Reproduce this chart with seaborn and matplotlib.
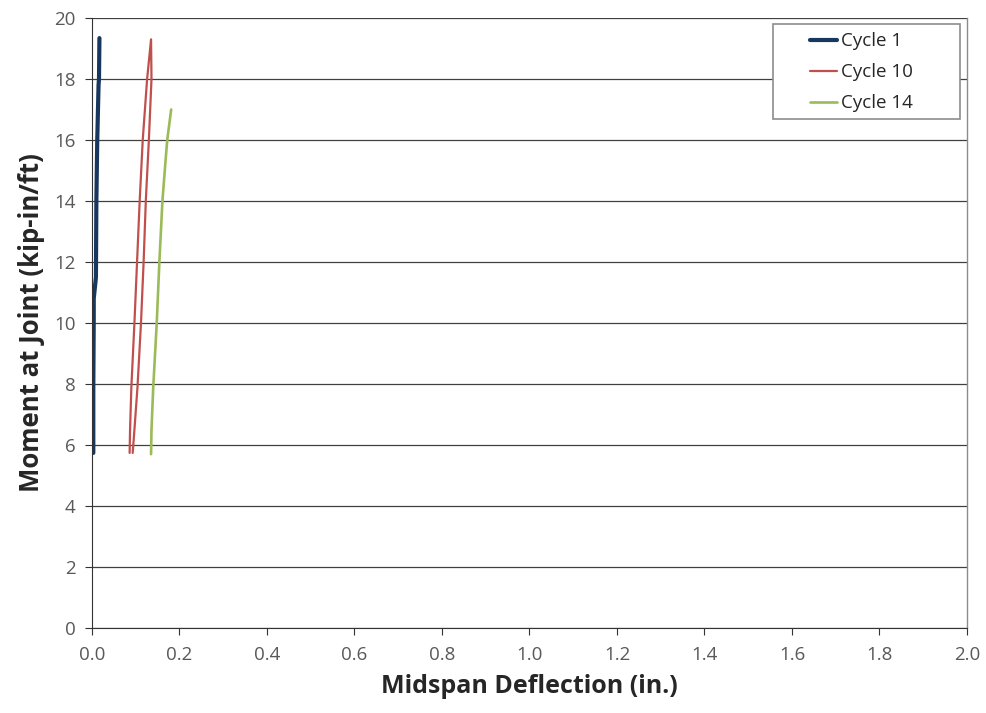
import matplotlib
matplotlib.use("Agg")
import matplotlib.pyplot as plt
from matplotlib.patches import Rectangle
import pandas as pd
import seaborn as sns

sns.set_style("white")
plt.rcParams['font.family'] = ['Open Sans', 'DejaVu Sans']

# values
cycle1_x = [0.003, 0.003, 0.003, 0.004, 0.004, 0.009, 0.010, 0.012, 0.015, 0.016, 0.017]
cycle1_y = [5.74, 6.5, 7.9, 10.2, 10.8, 11.5, 14.0, 16.0, 17.8, 18.0, 19.34]

cycle10_x = [0.093, 0.097, 0.104, 0.112, 0.118, 0.123, 0.130, 0.136, 0.135,
             0.126, 0.116, 0.109, 0.103, 0.097, 0.090, 0.087, 0.086]
cycle10_y = [5.74, 6.5, 7.9, 10.0, 12.0, 14.0, 16.0, 18.0, 19.3,
             18.0, 16.0, 14.0, 12.0, 10.0, 7.9, 6.5, 5.74]

cycle14_x = [0.135, 0.136, 0.140, 0.148, 0.154, 0.161, 0.168, 0.172, 0.181]
cycle14_y = [5.70, 6.5, 7.9, 10.0, 12.0, 14.0, 15.3, 16.0, 17.0]

labels = ['Cycle 1', 'Cycle 10', 'Cycle 14']
colors = ['#17375E', '#C0504D', '#9BBB59']
widths = [3.0, 1.6, 1.9]

xs = [cycle1_x, cycle10_x, cycle14_x]
ys = [cycle1_y, cycle10_y, cycle14_y]

fig = plt.figure(figsize=(9.86, 7.13), dpi=100)
ax = fig.add_axes([0.0933, 0.1192, 0.8874, 0.8556])

for lab, x, y, c, w in zip(labels, xs, ys, colors, widths):
    df = pd.DataFrame({'x': x, 'y': y})
    sns.lineplot(data=df, x='x', y='y', sort=False, estimator=None,
                 color=c, linewidth=w, label=lab, ax=ax)

ax.set_xlim(0, 2.0)
ax.set_ylim(0, 20)
ax.set_xticks([i * 0.2 for i in range(11)])
ax.set_xticklabels([f'{i * 0.2:.1f}' for i in range(11)])
ax.set_yticks(range(0, 21, 2))
ax.yaxis.grid(True, color='#404040', linewidth=0.9)
ax.set_axisbelow(True)
for s in ['left', 'bottom']:
    ax.spines[s].set_color('#333333')
ax.spines['top'].set_visible(False)
ax.spines['right'].set_color('#8c8c8c')
ax.spines['right'].set_linewidth(1.0)
ax.tick_params(axis='both', direction='out', length=5, color='#333333',
               labelsize=13.5, labelcolor='#595959', bottom=True, left=True)
ax.tick_params(axis='x', pad=8)
ax.tick_params(axis='y', pad=7)

ax.set_xlabel('Midspan Deflection (in.)', fontsize=18, fontweight='bold', labelpad=7)
ax.set_ylabel('Moment at Joint (kip-in/ft)', fontsize=18.5, fontweight='bold', labelpad=6)

# legend box drawn separately so it can carry the wide left padding
box = Rectangle((0.778, 0.834), 0.2137, 0.156, transform=ax.transAxes,
                facecolor='white', edgecolor='#8c8c8c', linewidth=1.2, zorder=5)
ax.add_patch(box)
leg = ax.legend(loc='upper left', bbox_to_anchor=(0.816, 0.983), fontsize=13.5,
                frameon=False, handlelength=1.45, handletextpad=0.2,
                borderpad=0.2, labelspacing=0.7, borderaxespad=0)
leg.set_zorder(6)
for t in leg.get_texts():
    t.set_color('#262626')

fig.savefig('out.png', dpi=100)
